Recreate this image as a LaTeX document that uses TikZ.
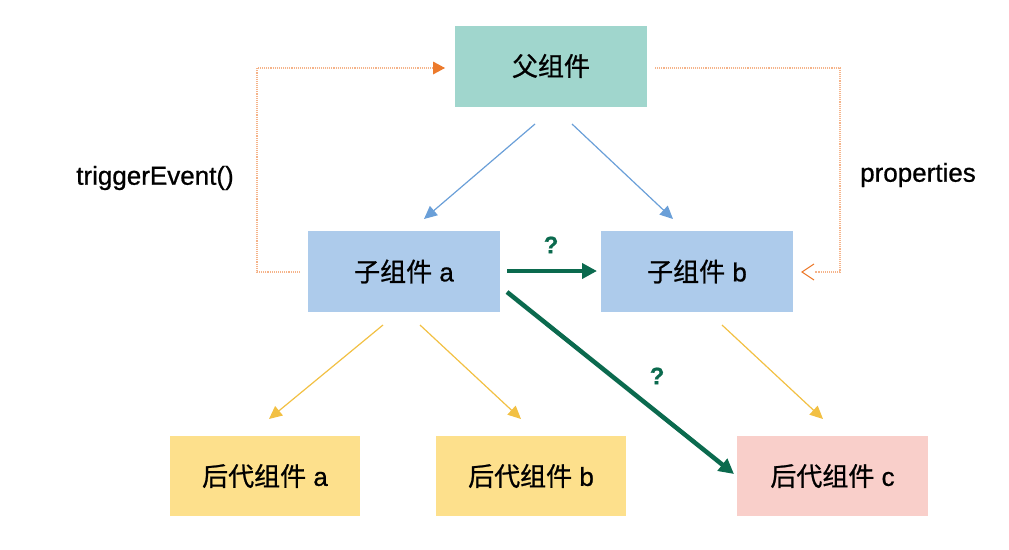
\documentclass[tikz,border=0pt]{standalone}
\usepackage{fontspec}
\setmainfont{Liberation Sans}[FakeBold=0.8]
\newfontfamily\cjk{Noto Sans CJK SC}[FakeBold=0.8]
\usetikzlibrary{arrows.meta}
\definecolor{teal0}{HTML}{A0D6CD}
\definecolor{blue0}{HTML}{ADCBEB}
\definecolor{yel0}{HTML}{FDE08C}
\definecolor{pink0}{HTML}{F9CFCA}
\definecolor{bluearr}{HTML}{6A9FD8}
\definecolor{yelarr}{HTML}{F2C043}
\definecolor{orgline}{HTML}{F5B389}
\definecolor{orghead}{HTML}{EC7A2C}
\definecolor{grn}{HTML}{0B6A4E}
\tikzset{
  box/.style={minimum width=192pt,minimum height=81pt,inner sep=0pt,font=\fontsize{26}{30}\selectfont},
  barr/.style={draw=bluearr,line width=1.2pt,-{Triangle[length=13pt,width=12pt]}},
  yarr/.style={draw=yelarr,line width=1.2pt,-{Triangle[length=13pt,width=12pt]}},
  oline/.style={draw=orgline,line width=1.1pt,densely dotted},
  garr/.style={draw=grn,line width=4.5pt,-{Triangle[length=15pt,width=15pt]}},
  qlab/.style={text=grn,font=\bfseries\fontsize{24}{28}\selectfont},
  side/.style={font=\fontsize{26}{30}\selectfont}
}
\begin{document}
\begin{tikzpicture}[x=1pt,y=-1pt]
\useasboundingbox (0,0) rectangle (1009,549);
\node[box,fill=teal0] (P) at (551,66) {{\cjk 父组件}};
\node[box,fill=blue0] (A) at (404,271.5) {{\cjk 子组件} a};
\node[box,fill=blue0] (B) at (697,271.5) {{\cjk 子组件} b};
\node[box,fill=yel0,minimum width=190pt,minimum height=80pt] (DA) at (265,476) {{\cjk 后代组件} a};
\node[box,fill=yel0,minimum width=190pt,minimum height=80pt] (DB) at (531,476) {{\cjk 后代组件} b};
\node[box,fill=pink0,minimum width=191pt,minimum height=80pt] (DC) at (832.5,476) {{\cjk 后代组件} c};

\node[side] (T) at (155,178) {triggerEvent()};
\node[side] (Pr) at (918,175) {properties};

% blue arrows
\coordinate (p1) at (535,124); \coordinate (a1) at (424,219);
\coordinate (p2) at (572,124); \coordinate (b1) at (673,219);
\draw[barr] (p1) -- (a1);
\draw[barr] (p2) -- (b1);

% yellow arrows
\coordinate (ya1) at (383,325); \coordinate (ya2) at (269,419);
\coordinate (yb1) at (420,325); \coordinate (yb2) at (521,419);
\coordinate (yc1) at (722,325); \coordinate (yc2) at (823,419);
\draw[yarr] (ya1) -- (ya2);
\draw[yarr] (yb1) -- (yb2);
\draw[yarr] (yc1) -- (yc2);

% orange loops
\coordinate (ol1) at (300,272); \coordinate (ol2) at (444,68);
\draw[oline] (ol1) -- (257,272) -- (257,68) -- (ol2);
\fill[orghead] (ol2) ++(1,0) -- ++(-12,-6.5) -- ++(0,13) -- cycle;
\coordinate (or1) at (655,68); \coordinate (or2) at (801,272);
\draw[oline] (or1) -- (840,68) -- (840,272) -- (815,272);
\draw[orghead,line width=1pt] (814,264) -- (802,272) -- (814,280);

% green arrows
\coordinate (g1) at (507,271); \coordinate (g2) at (597,271);
\draw[garr] (g1) -- (g2);
\node[qlab] (q1) at (551,245) {?};
\coordinate (g3) at (507,292); \coordinate (g4) at (734,474);
\draw[garr] (g3) -- (g4);
\node[qlab] (q2) at (657,376) {?};
\end{tikzpicture}
\end{document}
